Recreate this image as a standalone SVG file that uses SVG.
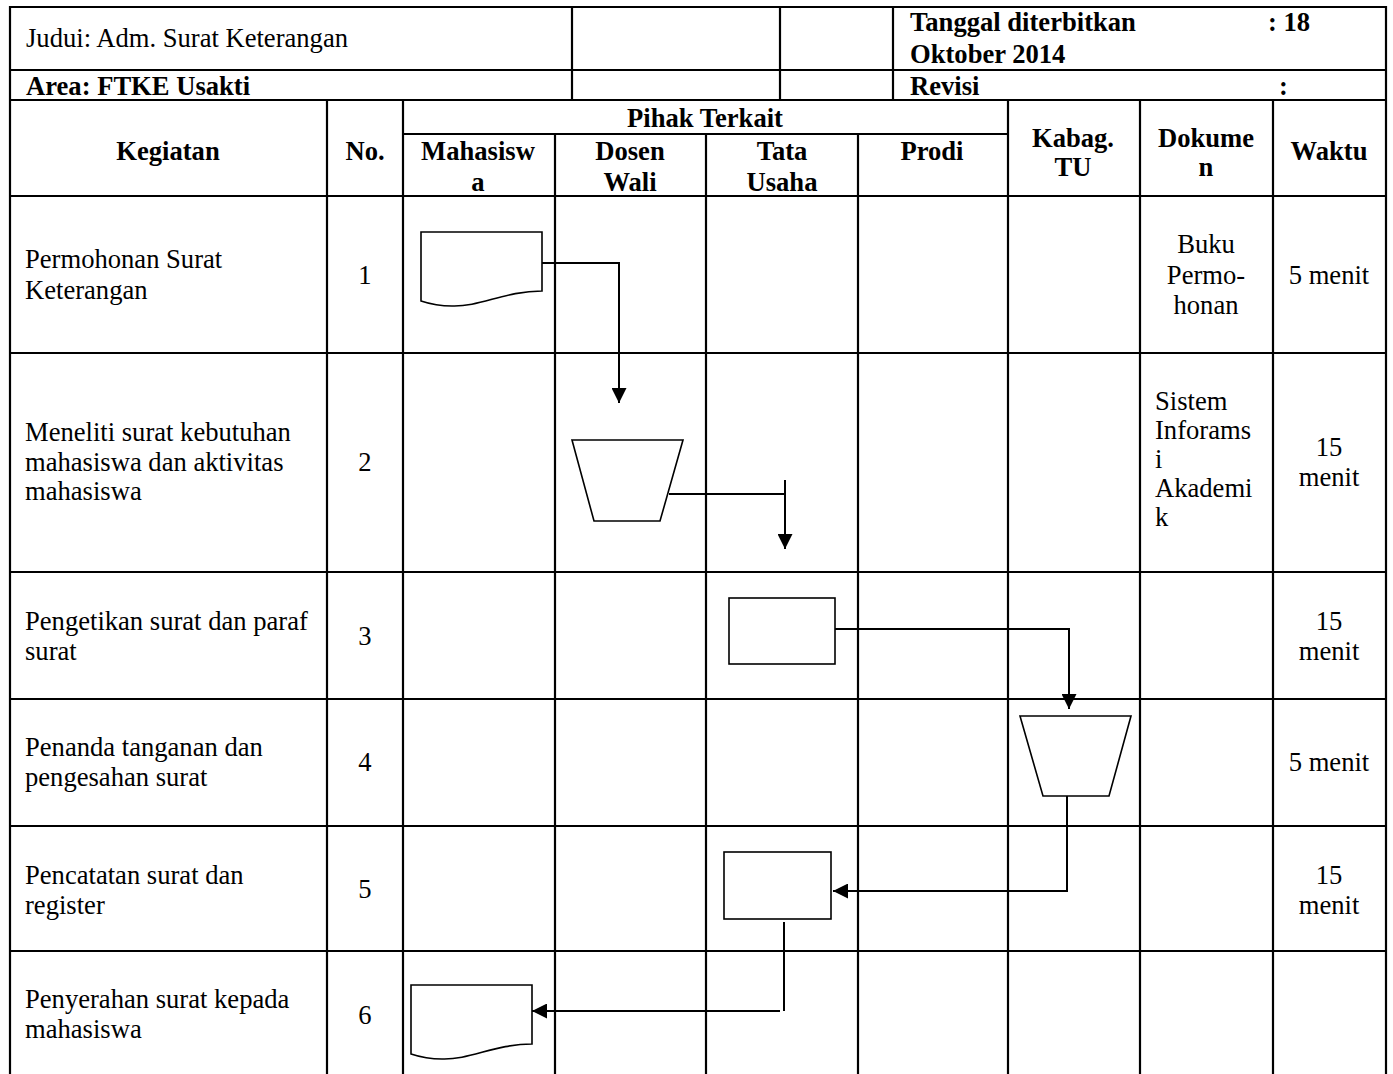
<svg xmlns="http://www.w3.org/2000/svg" width="1393" height="1074" viewBox="0 0 1393 1074">
<style>
text{font-family:"Liberation Serif","Times New Roman",serif;font-size:26.6px;fill:#000}
.b{font-weight:bold}
.c{text-anchor:middle}
.grid line{stroke:#000;stroke-width:2.2}
.shape{fill:#fff;stroke:#000;stroke-width:1.6}
.conn{fill:none;stroke:#000;stroke-width:2}
</style>
<defs>
<marker id="arr" viewBox="0 0 10 10" refX="10" refY="5" markerWidth="15" markerHeight="15" markerUnits="userSpaceOnUse" orient="auto">
<path d="M0,0 L10,5 L0,10 z" fill="#000"/>
</marker>
</defs>
<rect width="1393" height="1074" fill="#fff"/>
<g class="grid" id="table">
<line x1="9" y1="7" x2="1387" y2="7"/>
<line x1="9" y1="70" x2="1387" y2="70"/>
<line x1="9" y1="100" x2="1387" y2="100"/>
<line x1="10" y1="6" x2="10" y2="1074"/>
<line x1="1386" y1="6" x2="1386" y2="1074"/>
<line x1="572" y1="7" x2="572" y2="100"/>
<line x1="780" y1="7" x2="780" y2="100"/>
<line x1="893" y1="7" x2="893" y2="100"/>
<line x1="327" y1="100" x2="327" y2="1074"/>
<line x1="403" y1="100" x2="403" y2="1074"/>
<line x1="1008" y1="100" x2="1008" y2="1074"/>
<line x1="1140" y1="100" x2="1140" y2="1074"/>
<line x1="1273" y1="100" x2="1273" y2="1074"/>
<line x1="403" y1="134" x2="1008" y2="134"/>
<line x1="555" y1="134" x2="555" y2="1074"/>
<line x1="706" y1="134" x2="706" y2="1074"/>
<line x1="858" y1="134" x2="858" y2="1074"/>
<line x1="9" y1="196" x2="1387" y2="196"/>
<line x1="9" y1="353" x2="1387" y2="353"/>
<line x1="9" y1="572" x2="1387" y2="572"/>
<line x1="9" y1="699" x2="1387" y2="699"/>
<line x1="9" y1="826" x2="1387" y2="826"/>
<line x1="9" y1="951" x2="1387" y2="951"/>
</g>
<g id="header-text">
<text x="26" y="47">Judui: Adm. Surat Keterangan</text>
<text x="26" y="95" class="b">Area: FTKE Usakti</text>
<text x="910" y="31" class="b">Tanggal diterbitkan</text>
<text x="1268" y="31" class="b">: 18</text>
<text x="910" y="63" class="b">Oktober 2014</text>
<text x="910" y="95" class="b">Revisi</text>
<text x="1279" y="95" class="b">:</text>
<text x="168" y="160" class="b c">Kegiatan</text>
<text x="365" y="160" class="b c">No.</text>
<text x="705" y="127" class="b c">Pihak Terkait</text>
<text x="478" y="160" class="b c">Mahasisw</text>
<text x="478" y="191" class="b c">a</text>
<text x="630" y="160" class="b c">Dosen</text>
<text x="630" y="191" class="b c">Wali</text>
<text x="782" y="160" class="b c">Tata</text>
<text x="782" y="191" class="b c">Usaha</text>
<text x="932" y="160" class="b c">Prodi</text>
<text x="1073" y="147" class="b c">Kabag.</text>
<text x="1073" y="176" class="b c">TU</text>
<text x="1206" y="147" class="b c">Dokume</text>
<text x="1206" y="176" class="b c">n</text>
<text x="1329" y="160" class="b c">Waktu</text>
</g>
<g id="row-text">
<text x="25" y="268">Permohonan Surat</text>
<text x="25" y="299">Keterangan</text>
<text x="365" y="284" class="c">1</text>
<text x="1206" y="253" class="c">Buku</text>
<text x="1206" y="284" class="c">Permo-</text>
<text x="1206" y="314" class="c">honan</text>
<text x="1329" y="284" class="c">5 menit</text>
<text x="25" y="441">Meneliti surat kebutuhan</text>
<text x="25" y="471">mahasiswa dan aktivitas</text>
<text x="25" y="500">mahasiswa</text>
<text x="365" y="471" class="c">2</text>
<text x="1155" y="410">Sistem</text>
<text x="1155" y="439">Inforams</text>
<text x="1155" y="468">i</text>
<text x="1155" y="497">Akademi</text>
<text x="1155" y="526">k</text>
<text x="1329" y="456" class="c">15</text>
<text x="1329" y="486" class="c">menit</text>
<text x="25" y="630">Pengetikan surat dan paraf</text>
<text x="25" y="660">surat</text>
<text x="365" y="645" class="c">3</text>
<text x="1329" y="630" class="c">15</text>
<text x="1329" y="660" class="c">menit</text>
<text x="25" y="756">Penanda tanganan dan</text>
<text x="25" y="786">pengesahan surat</text>
<text x="365" y="771" class="c">4</text>
<text x="1329" y="771" class="c">5 menit</text>
<text x="25" y="884">Pencatatan surat dan</text>
<text x="25" y="914">register</text>
<text x="365" y="898" class="c">5</text>
<text x="1329" y="884" class="c">15</text>
<text x="1329" y="914" class="c">menit</text>
<text x="25" y="1008">Penyerahan surat kepada</text>
<text x="25" y="1038">mahasiswa</text>
<text x="365" y="1024" class="c">6</text>
</g>
<g id="connectors">
<path class="conn" d="M542,263 H619 V403" marker-end="url(#arr)"/>
<path class="conn" d="M669,494 H785"/>
<path class="conn" d="M785,480 V549" marker-end="url(#arr)"/>
<path class="conn" d="M835,629 H1069 V709" marker-end="url(#arr)"/>
<path class="conn" d="M1067,796 V891 H833" marker-end="url(#arr)"/>
<path class="conn" d="M784,922 V1011"/>
<path class="conn" d="M780,1011 H532" marker-end="url(#arr)"/>
</g>
<g id="node1-document">
<path class="shape" d="M421,232 H542 V291 C505,291 480,307 452,306 C438,306 430,304 421,301 Z"/>
</g>
<g id="node2-manual-op">
<polygon class="shape" points="572,440 683,440 660,521 594,521"/>
</g>
<g id="node3-process">
<rect class="shape" x="729" y="598" width="106" height="66"/>
</g>
<g id="node4-manual-op">
<polygon class="shape" points="1020,716 1131,716 1109,796 1043,796"/>
</g>
<g id="node5-process">
<rect class="shape" x="724" y="852" width="107" height="67"/>
</g>
<g id="node6-document">
<path class="shape" d="M411,985 H532 V1044 C495,1044 470,1060 442,1059 C428,1059 420,1057 411,1054 Z"/>
</g>
</svg>
